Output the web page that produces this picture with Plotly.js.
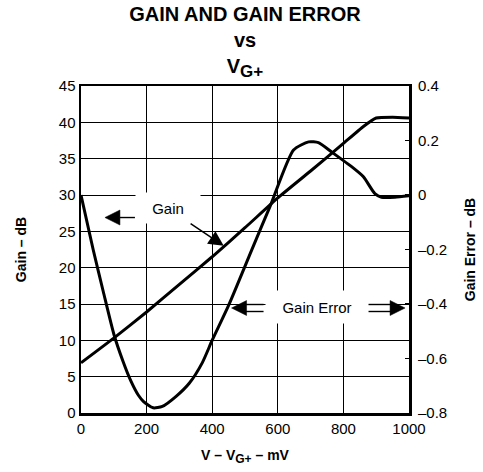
<!DOCTYPE html>
<html>
<head>
<meta charset="utf-8">
<script src="https://cdn.plot.ly/plotly-3.0.1.min.js"></script>
<style>
  html, body { margin: 0; padding: 0; background: #fff; }
  #chart { width: 483px; height: 472px; }
</style>
</head>
<body>
<div id="chart"></div>
<script>
// Gain (dB, left axis) against V - VG+ (mV)
const gainX = [0, 100, 200, 300, 400, 500, 600, 700, 800, 860, 900, 950, 1000];
const gainDb = [6.9, 10.3, 13.9, 17.7, 21.5, 25.5, 29.6, 33.3, 37.1, 39.4, 40.6, 40.7, 40.6];

// Gain error (dB, right axis) against V - VG+ (mV)
const errX = [0, 37, 68, 100, 128, 153, 175, 190, 220, 248, 290, 330, 370, 400, 450, 520, 578, 648, 694, 724, 765, 825, 861, 896, 916, 957, 1000];
const errDb = [0, -0.2, -0.355, -0.51, -0.61, -0.685, -0.735, -0.757, -0.781, -0.776, -0.739, -0.691, -0.615, -0.533, -0.405, -0.203, -0.037, 0.165, 0.195, 0.192, 0.157, 0.104, 0.067, 0.005, -0.008, -0.008, -0.003];

// Axis ticks
const xTicks = [0, 200, 400, 600, 800, 1000];
const gainTicks = [0, 5, 10, 15, 20, 25, 30, 35, 40, 45];
const errTicks = [-0.8, -0.6, -0.4, -0.2, 0, 0.2, 0.4];
const errTickText = ['–0.8', '–0.6', '–0.4', '–0.2', '0', '0.2', '0.4'];

const FONT = 'Liberation Sans, Arial, sans-serif';

const traces = [
  {
    x: gainX, y: gainDb, yaxis: 'y', type: 'scatter', mode: 'lines',
    line: { color: '#000', width: 3, shape: 'spline', smoothing: 0.4 },
    hoverinfo: 'skip', showlegend: false
  },
  {
    x: errX, y: errDb, yaxis: 'y2', type: 'scatter', mode: 'lines',
    line: { color: '#000', width: 3, shape: 'spline', smoothing: 0.6 },
    hoverinfo: 'skip', showlegend: false
  }
];

// Arrow glyphs drawn in pixel units around an anchor point on the plot
function pixelPath(xa, ya, path, filled) {
  return {
    type: 'path', xref: 'x', yref: 'y',
    xsizemode: 'pixel', ysizemode: 'pixel', xanchor: xa, yanchor: ya,
    path: path,
    line: { color: '#000', width: filled ? 0.5 : 1.4 },
    fillcolor: filled ? '#000' : 'rgba(0,0,0,0)',
    layer: 'above'
  };
}

const shapes = [
  // single arrow pointing to the left (gain) axis
  pixelPath(73, 26.9, 'M0,0 L15,7.5 L15,-7.5 Z', true),
  pixelPath(73, 26.9, 'M15,0 L30,0', false),
  // double-shaft arrow pointing at the gain error curve
  pixelPath(459, 14.45, 'M0,0 L15,7.5 L15,-7.5 Z', true),
  pixelPath(459, 14.45, 'M12,3.5 L32,3.5', false),
  pixelPath(459, 14.45, 'M12,-3.5 L32,-3.5', false),
  // double-shaft arrow pointing to the right (gain error) axis
  pixelPath(988, 14.45, 'M0,0 L-15,7.5 L-15,-7.5 Z', true),
  pixelPath(988, 14.45, 'M-12,3.5 L-37,3.5', false),
  pixelPath(988, 14.45, 'M-12,-3.5 L-37,-3.5', false)
];

const annotations = [
  // "Gain" label with a leader to the gain curve
  {
    text: 'Gain', xref: 'x', yref: 'y', x: 435, y: 23.0,
    axref: 'x', ayref: 'y', ax: 264, ay: 28.2,
    showarrow: true, arrowhead: 2, arrowsize: 2, arrowwidth: 1.5, arrowcolor: '#000', standoff: 0,
    bgcolor: '#fff', width: 62, height: 28,
    font: { family: FONT, size: 15, color: '#000' }
  },
  // "Gain Error" label
  {
    text: 'Gain Error', xref: 'x', yref: 'y', x: 718, y: 14.6, showarrow: false,
    bgcolor: '#fff', width: 100, height: 30,
    font: { family: FONT, size: 15, color: '#000' }
  }
];

const layout = {
  width: 483, height: 472,
  margin: { l: 81, r: 74, t: 86, b: 59 },
  paper_bgcolor: '#fff', plot_bgcolor: '#fff',
  font: { family: FONT, size: 15, color: '#000' },
  title: {
    text: 'GAIN AND GAIN ERROR<br>vs<br>V<sub><span style="font-size:17px">G+</span></sub>',
    font: { family: FONT, size: 20, weight: 'bold', color: '#000' },
    xref: 'paper', x: 0.5, xanchor: 'center',
    yref: 'container', y: 1, yanchor: 'top', pad: { t: 21 }
  },
  xaxis: {
    range: [0, 1000], tickvals: xTicks, ticks: '', showgrid: true,
    gridcolor: '#000', gridwidth: 1, zeroline: false,
    showline: true, linecolor: '#000', linewidth: 2.5, mirror: true,
    tickfont: { family: FONT, size: 15 },
    title: { text: 'V – V<sub><span style="font-size:12px">G+</span></sub> – mV', font: { family: FONT, size: 14, weight: 'bold' }, standoff: 15 }
  },
  yaxis: {
    range: [0, 45], tickvals: gainTicks, ticks: '', showgrid: true,
    gridcolor: '#000', gridwidth: 1, zeroline: false,
    showline: true, linecolor: '#000', linewidth: 2.5, mirror: true,
    tickfont: { family: FONT, size: 15 },
    title: { text: 'Gain – dB', font: { family: FONT, size: 14, weight: 'bold' }, standoff: 29 }
  },
  yaxis2: {
    range: [-0.8, 0.4], overlaying: 'y', side: 'right',
    tickvals: errTicks, ticktext: errTickText,
    ticks: 'inside', ticklen: 4, tickwidth: 1.5, tickcolor: '#000',
    ticklabelstandoff: 8,
    showgrid: false, zeroline: false, showline: false,
    tickfont: { family: FONT, size: 15 },
    title: { text: 'Gain Error – dB', font: { family: FONT, size: 14, weight: 'bold' }, standoff: 18 }
  },
  shapes: shapes,
  annotations: annotations,
  showlegend: false
};

Plotly.newPlot('chart', traces, layout, { staticPlot: true, displayModeBar: false });
</script>
</body>
</html>
